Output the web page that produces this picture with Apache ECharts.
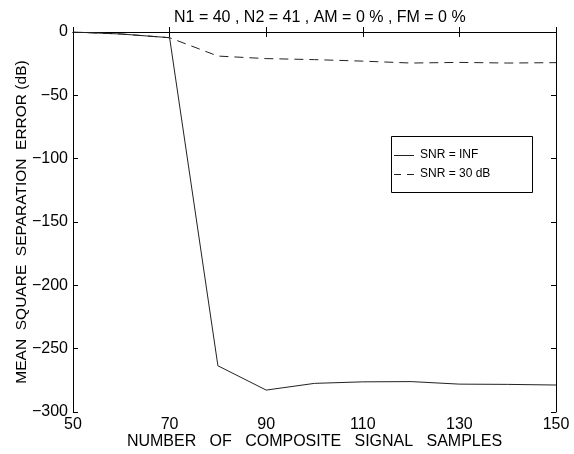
<!DOCTYPE html>
<html><head><meta charset="utf-8">
<script src="https://cdn.jsdelivr.net/npm/echarts@6/dist/echarts.min.js"></script>
<style>html,body{margin:0;padding:0;background:#fff}#c{width:574px;height:454px}</style>
</head><body><div id="c"></div>
<script>
const samples = [50, 60, 70, 80, 90, 100, 110, 120, 130, 140, 150];
const snrInf = [0, -1.6, -4.5, -263.5, -282.7, -277.4, -276.2, -276, -278, -278.2, -278.7];
const snr30 = [0, -1.6, -4.5, -19, -21, -21.8, -23, -24.5, -24, -24.5, -24.2];
const xTicks = [50, 70, 90, 110, 130, 150];
const yTicks = [0, -50, -100, -150, -200, -250, -300];
const titleText = 'N1 = 40 , N2 = 41 , AM = 0 % , FM = 0 %';
const xName = 'NUMBER   OF   COMPOSITE   SIGNAL   SAMPLES';
const yName = 'MEAN  SQUARE  SEPARATION  ERROR (dB)';
const names = ['SNR = INF', 'SNR = 30 dB'];

const FONT = '"Liberation Sans", Arial, sans-serif';
const fmt = v => String(v).replace('-', '\u2212');
const axisCommon = {
  axisLine: {show: true, lineStyle: {color: '#000', width: 1}},
  axisTick: {show: true, inside: true, length: 5, lineStyle: {color: '#000'}},
  splitLine: {show: false}
};
const LX = 391, LY = 136, LW = 141, LH = 56;
const chart = echarts.init(document.getElementById('c'), null, {renderer: 'canvas'});
chart.setOption({
  backgroundColor: '#fff',
  animation: false,
  title: {text: titleText, left: 169, top: 5,
    textStyle: {fontFamily: FONT, fontSize: 16, fontWeight: 'normal', color: '#000'}},
  grid: {left: 73, right: 18, top: 32, bottom: 42, containLabel: false, outerBoundsMode: 'none'},
  xAxis: [
    Object.assign({type: 'value', min: 50, max: 150, interval: 20, position: 'bottom',
      name: xName, nameLocation: 'middle', nameGap: 22, nameMoveOverlap: false,
      nameTextStyle: {fontFamily: FONT, fontSize: 16, color: '#000'},
      axisLabel: {fontFamily: FONT, fontSize: 16, color: '#000', margin: 5,
        formatter: v => xTicks.includes(v) ? fmt(v) : ''}}, axisCommon),
    Object.assign({type: 'value', min: 50, max: 150, interval: 20, position: 'top',
      axisLabel: {show: false}}, axisCommon)
  ],
  yAxis: [
    Object.assign({type: 'value', min: -300, max: 0, interval: 50, position: 'left',
      name: yName, nameLocation: 'middle', nameGap: 43, nameRotate: 90, nameMoveOverlap: false,
      nameTextStyle: {fontFamily: FONT, fontSize: 15.5, color: '#000'},
      axisLabel: {fontFamily: FONT, fontSize: 16, color: '#000', margin: 5,
        formatter: v => yTicks.includes(v) ? fmt(v) : ''}}, axisCommon),
    Object.assign({type: 'value', min: -300, max: 0, interval: 50, position: 'right',
      axisLabel: {show: false}}, axisCommon)
  ],
  graphic: [
    {type: 'rect', shape: {x: LX + 0.5, y: LY + 0.5, width: LW, height: LH},
      style: {fill: '#fff', stroke: '#000', lineWidth: 1}, z: 10},
    {type: 'line', shape: {x1: LX + 3, y1: 155.5, x2: LX + 23, y2: 155.5},
      style: {stroke: '#222', lineWidth: 1}, z: 11},
    {type: 'line', shape: {x1: LX + 3, y1: 174.5, x2: LX + 23, y2: 174.5},
      style: {stroke: '#222', lineWidth: 1, lineDash: [7, 6]}, z: 11},
    {type: 'text', x: LX + 29, y: 155, style: {text: names[0], font: '12px ' + FONT,
      fill: '#000', textVerticalAlign: 'middle', verticalAlign: 'middle'}, z: 11},
    {type: 'text', x: LX + 29, y: 174, style: {text: names[1], font: '12px ' + FONT,
      fill: '#000', textVerticalAlign: 'middle', verticalAlign: 'middle'}, z: 11}
  ],
  series: [
    {name: names[0], type: 'line', data: samples.map((x, i) => [x, snrInf[i]]),
      symbol: 'none', lineStyle: {color: '#222', width: 1, type: 'solid'}, z: 3},
    {name: names[1], type: 'line', data: samples.map((x, i) => [x, snr30[i]]),
      symbol: 'none', lineStyle: {color: '#222', width: 1, type: [9, 6]}, z: 2}
  ]
});
</script></body></html>
